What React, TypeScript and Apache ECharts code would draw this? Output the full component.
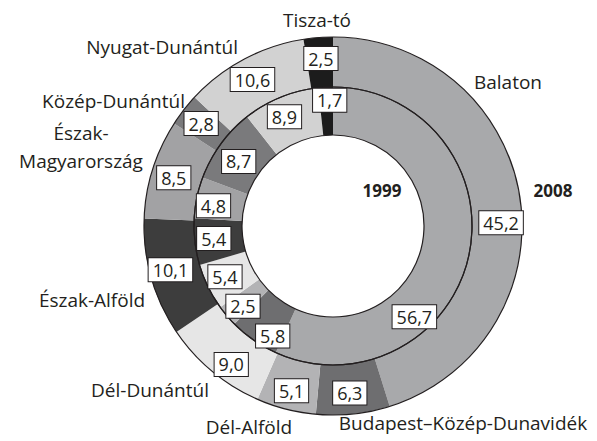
import React, { useEffect, useRef } from "react";
import * as echarts from "echarts";

const categories = [
  "Balaton",
  "Budapest–Közép-Dunavidék",
  "Dél-Alföld",
  "Dél-Dunántúl",
  "Észak-Alföld",
  "Észak-Magyarország",
  "Közép-Dunántúl",
  "Nyugat-Dunántúl",
  "Tisza-tó",
];

const values1999 = [56.7, 5.8, 2.5, 5.4, 5.4, 4.8, 8.7, 8.9, 1.7];
const values2008 = [45.2, 6.3, 5.1, 9.0, 10.1, 8.5, 2.8, 10.6, 2.5];
const yearLabels = ["1999", "2008"];

// styles
const colors = [
  "#a8a9ab",
  "#6e6e70",
  "#b3b3b5",
  "#e6e6e6",
  "#3d3d3d",
  "#a2a2a4",
  "#7a7a7c",
  "#d2d2d2",
  "#1c1c1c",
];

const labelOffsetsInner: number[][] = [
  [-34, 66], [7, 13], [0, 4], [-2, -1], [-2, -1], [-4, 4], [1, 5], [-4, 0], [3, -8],
];
const labelOffsetsOuter: number[][] = [
  [3, 22], [-1, 1], [0, 3], [5, 10], [-2, -2], [0, 2], [0, 0], [-2, 1], [1, -1],
];

// category name placement (x, y, align)
const namePlacement: [number, number, string][] = [
  [508, 82, "center"],
  [463, 423, "center"],
  [249, 427, "center"],
  [150, 390, "center"],
  [92, 300, "center"],
  [81, 147, "center"],
  [185, 101, "right"],
  [238, 47, "right"],
  [317, 20, "center"],
];
const yearPlacement: [number, number][] = [
  [382, 190],
  [553, 190],
];

const CENTER = [333, 226];
const INNER_R = [91, 139];
const OUTER_R = [139, 189];
const FONT = "'Open Sans', 'Noto Sans', sans-serif";
const TEXT_COLOR = "#231f20";

function fmt(v: number) {
  return v.toFixed(1).replace(".", ",");
}

export default function App() {
  const ref = useRef<HTMLDivElement>(null);

  useEffect(() => {
    document.body.style.margin = "0";
    if (!ref.current) return;
    const chart = echarts.init(ref.current, undefined, { renderer: "svg" });

    const labelStyle = {
      show: true,
      position: "inside" as const,
      formatter: (p: any) => fmt(p.value),
      fontFamily: FONT,
      fontSize: 18,
      lineHeight: 20,
      color: TEXT_COLOR,
      backgroundColor: "#ffffff",
      borderColor: TEXT_COLOR,
      borderWidth: 1,
      padding: [2, 4, 1, 4],
    };

    const mkData = (vals: number[]) =>
      vals.map((v, i) => ({
        name: categories[i],
        value: v,
        itemStyle: { color: colors[i] },
      }));

    const ringBorder = (radius: number[]) => ({
      type: "pie",
      center: CENTER,
      radius,
      silent: true,
      z: 2,
      label: { show: false },
      labelLine: { show: false },
      itemStyle: { color: "rgba(0,0,0,0)", borderColor: TEXT_COLOR, borderWidth: 1.2 },
      data: [{ value: 1, name: "" }],
    });

    const graphics: any[] = categories.map((c, i) => {
      const [x, y, align] = namePlacement[i];
      return {
        type: "text",
        x,
        y,
        silent: true,
        style: {
          text: c === "Észak-Magyarország" ? "Észak-\nMagyarország" : c,
          fontFamily: FONT,
          fontSize: 19,
          lineHeight: 28,
          fill: TEXT_COLOR,
          align,
          verticalAlign: "middle",
        },
      };
    });
    yearLabels.forEach((t, i) => {
      graphics.push({
        type: "text",
        x: yearPlacement[i][0],
        y: yearPlacement[i][1],
        silent: true,
        style: {
          text: t,
          fontFamily: FONT,
          fontSize: 17,
          fontWeight: "bold",
          fill: TEXT_COLOR,
          align: "center",
          verticalAlign: "middle",
        },
      });
    });

    chart.setOption({
      animation: false,
      backgroundColor: "#ffffff",
      series: [
        {
          type: "pie",
          center: CENTER,
          radius: INNER_R,
          startAngle: 90,
          clockwise: true,
          silent: true,
          z: 2,
          itemStyle: { borderWidth: 0 },
          label: labelStyle,
          labelLine: { show: false },
          labelLayout: (p: any) => ({
            dx: labelOffsetsInner[p.dataIndex][0],
            dy: labelOffsetsInner[p.dataIndex][1],
          }),
          data: mkData(values1999),
        },
        {
          type: "pie",
          center: CENTER,
          radius: OUTER_R,
          startAngle: 90,
          clockwise: true,
          silent: true,
          z: 2,
          itemStyle: { borderWidth: 0 },
          label: labelStyle,
          labelLine: { show: false },
          labelLayout: (p: any) => ({
            dx: labelOffsetsOuter[p.dataIndex][0],
            dy: labelOffsetsOuter[p.dataIndex][1],
          }),
          data: mkData(values2008),
        },
        ringBorder(INNER_R),
        ringBorder(OUTER_R),
      ],
      graphic: graphics,
    });

    return () => chart.dispose();
  }, []);

  return <div ref={ref} style={{ width: 597, height: 441 }} />;
}
